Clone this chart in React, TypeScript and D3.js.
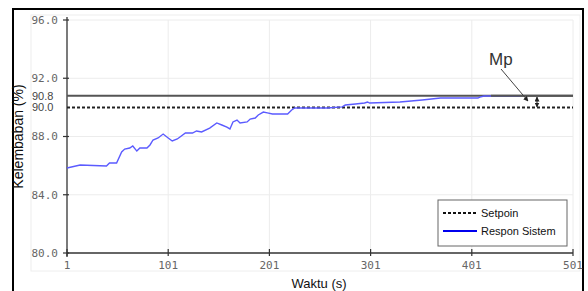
import React from "react";
import * as d3 from "d3";

const timeIdx = [1, 14, 40, 43, 50, 55, 58, 63, 66, 70, 73, 80, 83, 86, 91, 96, 101, 105, 110, 118, 125, 129, 134, 142, 149, 154, 159, 162, 165, 169, 172, 179, 182, 187, 190, 195, 199, 204, 219, 223, 226, 258, 273, 276, 286, 295, 298, 300, 330, 352, 370, 407, 409, 413, 449];
const response = [85.84, 86.04, 85.97, 86.18, 86.18, 86.94, 87.14, 87.21, 87.35, 87.0, 87.21, 87.21, 87.42, 87.76, 87.9, 88.17, 87.9, 87.69, 87.83, 88.24, 88.24, 88.38, 88.31, 88.58, 88.93, 88.79, 88.65, 88.52, 89.0, 89.13, 88.93, 89.0, 89.2, 89.27, 89.48, 89.68, 89.62, 89.55, 89.55, 89.82, 89.96, 89.96, 90.03, 90.16, 90.23, 90.3, 90.37, 90.3, 90.37, 90.51, 90.64, 90.64, 90.71, 90.78, 90.78];
const setpoint = 90.0;
const peak = 90.8;
const xTicks = [1, 101, 201, 301, 401, 501];
const yTicks = [80, 84, 88, 92, 96];
const legendLabels = ["Setpoin", "Respon Sistem"];

export default function App() {
  const x = d3.scaleLinear().domain([1, 501]).range([67, 573]);
  const y = d3.scaleLinear().domain([80, 96]).range([253, 20]);
  const line = d3
    .line<number>()
    .x((_, i) => x(timeIdx[i]))
    .y((d) => y(d));
  const mono = "'DejaVu Sans Mono', 'Liberation Mono', monospace";
  const sans = "'Liberation Sans', Arial, sans-serif";
  return (
    <svg width={588} height={291} style={{ position: "absolute", left: 0, top: 0 }}>
      <defs>
        <marker id="ah" viewBox="0 0 10 10" refX="9" refY="5" markerWidth="5" markerHeight="5" orient="auto-start-reverse">
          <path d="M0,0 L10,5 L0,10 z" fill="#222" />
        </marker>
      </defs>
      <rect x={0} y={0} width={588} height={291} fill="#fff" />
      {/* outer frame */}
      <rect x={13} y={9} width={570} height={290} fill="none" stroke="#000" strokeWidth={2} />
      {/* faint panel */}
      <rect x={31} y={15} width={549} height={256} fill="none" stroke="#eee" strokeWidth={1} />
      {/* grid */}
      {xTicks.slice(1).map((t) => (
        <line key={"gx" + t} x1={x(t)} x2={x(t)} y1={y(96)} y2={y(80)} stroke="#ececec" />
      ))}
      {yTicks.slice(1).map((t) => (
        <line key={"gy" + t} x1={x(1)} x2={x(501)} y1={y(t)} y2={y(t)} stroke="#ececec" />
      ))}
      {/* axes */}
      <line x1={x(1)} x2={x(1)} y1={y(96) - 3} y2={y(80) + 4} stroke="#333" strokeWidth={1.3} />
      <line x1={x(1)} x2={x(501)} y1={y(80)} y2={y(80)} stroke="#333" strokeWidth={1.3} />
      {yTicks.map((t) => (
        <g key={"yt" + t}>
          <line x1={x(1) - 4} x2={x(1) + 2} y1={y(t)} y2={y(t)} stroke="#333" strokeWidth={1.2} />
          <text x={58} y={y(t)} dy="0.35em" textAnchor="end" fontFamily={mono} fontSize={11} fill="#666">
            {t.toFixed(1)}
          </text>
        </g>
      ))}
      {xTicks.map((t) => (
        <g key={"xt" + t}>
          <line x1={x(t)} x2={x(t)} y1={y(80) - 4} y2={y(80) + 3} stroke="#333" strokeWidth={1.2} />
          <text x={x(t)} y={265} dy="0.35em" textAnchor="middle" fontFamily={mono} fontSize={11} fill="#666">
            {t}
          </text>
        </g>
      ))}
      <text x={32} y={y(peak)} dy="0.35em" fontFamily={sans} fontSize={11} fill="#444">
        {peak.toFixed(1)}
      </text>
      <text x={32} y={y(setpoint)} dy="0.35em" fontFamily={sans} fontSize={11} fill="#444">
        {setpoint.toFixed(1)}
      </text>
      {/* peak line */}
      <line x1={x(1)} x2={x(501)} y1={y(peak)} y2={y(peak)} stroke="#555" strokeWidth={2} />
      {/* setpoint */}
      <line x1={x(1)} x2={x(501)} y1={y(setpoint)} y2={y(setpoint)} stroke="#222" strokeWidth={2} strokeDasharray="3,2" />
      {/* response */}
      <path d={line(response) || ""} fill="none" stroke="#5b5bff" strokeWidth={1.4} />
      {/* peak line on top partially */}
      <line x1={x(420)} x2={x(501)} y1={y(peak)} y2={y(peak)} stroke="#555" strokeWidth={2} />
      {/* Mp annotation */}
      <text x={489} y={65} fontFamily={sans} fontSize={17} fill="#333">Mp</text>
      <line x1={501} y1={69} x2={528} y2={101} stroke="#444" strokeWidth={1} markerEnd="url(#ah)" />
      <line x1={537} y1={97} x2={537} y2={107} stroke="#222" strokeWidth={1} markerStart="url(#ah)" markerEnd="url(#ah)" />
      {/* axis titles */}
      <text transform={`translate(23,${(y(96) + y(80)) / 2 + 0}) rotate(-90)`} textAnchor="middle" fontFamily={sans} fontSize={14} fill="#111">
        Kelembaban (%)
      </text>
      <text x={319} y={288} textAnchor="middle" fontFamily={sans} fontSize={13} fill="#111">
        Waktu (s)
      </text>
      {/* legend */}
      <rect x={438} y={200} width={129} height={46} fill="#fff" stroke="#666" strokeWidth={1} />
      <line x1={443} x2={477} y1={213} y2={213} stroke="#111" strokeWidth={2} strokeDasharray="3,2" />
      <line x1={443} x2={477} y1={231} y2={231} stroke="#0000ee" strokeWidth={2} />
      <text x={481} y={213} dy="0.35em" fontFamily={sans} fontSize={11} fill="#111">{legendLabels[0]}</text>
      <text x={481} y={231} dy="0.35em" fontFamily={sans} fontSize={11} fill="#111">{legendLabels[1]}</text>
    </svg>
  );
}
